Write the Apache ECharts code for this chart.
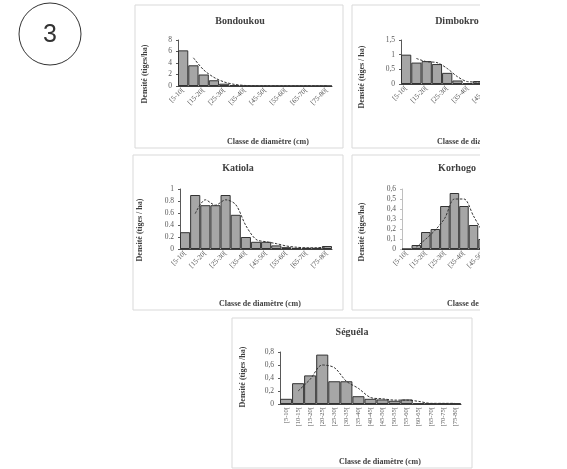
<!DOCTYPE html>
<html><head><meta charset="utf-8">
<script src="https://cdn.jsdelivr.net/npm/echarts@6.0.0/dist/echarts.min.js"></script>
<style>html,body{margin:0;padding:0;background:#fff}#c{width:567px;height:469px}</style>
</head><body><div id="c"></div>
<script>
const classes = ['[5-10[','[10-15[','[15-20[','[20-25[','[25-30[','[30-35[','[35-40[','[40-45[','[45-50[','[50-55[','[55-60[','[60-65[','[65-70[','[70-75[','[75-80['];

const bondoukouDensity = [6.2, 3.6, 2.0, 1.0, 0.4, 0.15, 0.05, 0.03, 0.03, 0.02, 0.02, 0.02, 0.02, 0.02, 0.02];
const bondoukouTrend   = [null, 4.9, 2.8, 1.5, 0.7, 0.28, 0.1, 0.04, 0.03, 0.03, 0.02, 0.02, 0.02, 0.02, 0.02];

const dimbokroDensity = [1.0, 0.73, 0.78, 0.68, 0.38, 0.12, 0.03, 0.1, 0.1, 0.05, 0.03, 0.02, 0.02, 0.01, 0.02];
const dimbokroTrend   = [null, 0.87, 0.76, 0.73, 0.53, 0.25, 0.08, 0.07, 0.1, 0.08, 0.04, 0.03, 0.02, 0.02, 0.02];

const katiolaDensity = [0.28, 0.9, 0.73, 0.73, 0.9, 0.57, 0.2, 0.12, 0.12, 0.06, 0.03, 0.02, 0.02, 0.02, 0.05];
const katiolaTrend   = [null, 0.59, 0.82, 0.73, 0.82, 0.74, 0.39, 0.16, 0.12, 0.09, 0.05, 0.03, 0.02, 0.02, 0.04];

const korhogoDensity = [0, 0.04, 0.17, 0.2, 0.43, 0.56, 0.43, 0.24, 0.1, 0.03, 0.04, 0.02, 0.01, 0.01, 0.01];
const korhogoTrend   = [null, 0.02, 0.1, 0.19, 0.31, 0.5, 0.5, 0.33, 0.17, 0.06, 0.03, 0.03, 0.02, 0.01, 0.01];

const seguelaDensity = [0.08, 0.32, 0.44, 0.76, 0.35, 0.35, 0.12, 0.08, 0.07, 0.05, 0.07, 0.01, 0.01, 0.01, 0.01];
const seguelaTrend   = [null, 0.2, 0.38, 0.6, 0.56, 0.35, 0.24, 0.1, 0.08, 0.06, 0.06, 0.04, 0.01, 0.01, 0.01];

const panelTitles = ['Bondoukou', 'Dimbokro', 'Katiola', 'Korhogo', 'Séguéla'];
const yNames = ['Densité (tiges/ha)', 'Densité (tiges / ha)', 'Densité (tiges / ha)', 'Densité (tiges/ha)', 'Densité (tiges /ha)'];
const xName = 'Classe de diamètre (cm)';

const SERIF = '"Liberation Serif", "DejaVu Serif", serif';
const TXT = '#404040';

const panels = [
  {bars: bondoukouDensity, trend: bondoukouTrend, max: 8, interval: 2, dec: '.',
   grid: {left: 178, top: 40, width: 154, height: 46}, box: [135, 5, 208, 143],
   title: [240, 21], yName: [145, 74], xName: [268, 142], rot: 45, lblInt: 1, yLine: '#595959'},
  {bars: dimbokroDensity, trend: dimbokroTrend, max: 1.5, interval: 0.5, dec: ',',
   grid: {left: 401, top: 40, width: 154, height: 44}, box: [352, 5, 208, 143],
   title: [457, 21], yName: [362, 77], xName: [478, 142], rot: 45, lblInt: 1, yLine: '#595959'},
  {bars: katiolaDensity, trend: katiolaTrend, max: 1, interval: 0.2, dec: '.',
   grid: {left: 180, top: 189, width: 152, height: 60}, box: [133, 155, 210, 155],
   title: [238, 168], yName: [140, 230], xName: [260, 304], rot: 45, lblInt: 1, yLine: '#595959'},
  {bars: korhogoDensity, trend: korhogoTrend, max: 0.6, interval: 0.1, dec: ',',
   grid: {left: 402, top: 189, width: 143, height: 60}, box: [352, 155, 210, 155],
   title: [457, 168], yName: [362, 232], xName: [488, 304], rot: 45, lblInt: 1, yLine: '#bfbfbf'},
  {bars: seguelaDensity, trend: seguelaTrend, max: 0.8, interval: 0.2, dec: ',',
   grid: {left: 280, top: 352, width: 181, height: 52}, box: [232, 318, 240, 150],
   title: [352, 332], yName: [243, 377], xName: [380, 462], rot: 90, lblInt: 0, yLine: '#595959'}
];

const grid = [], xAxis = [], yAxis = [], series = [], graphic = [];

panels.forEach((p, i) => {
  graphic.push({type: 'rect', shape: {x: p.box[0], y: p.box[1], width: p.box[2], height: p.box[3]},
    style: {fill: '#fff', stroke: '#d9d9d9', lineWidth: 1}, z: -10, silent: true});
  graphic.push({type: 'text', x: p.title[0], y: p.title[1], z: 5,
    style: {text: panelTitles[i], font: 'bold 10px ' + SERIF, fill: TXT, align: 'center', verticalAlign: 'middle'}});
  graphic.push({type: 'text', x: p.yName[0], y: p.yName[1], rotation: Math.PI / 2, z: 5,
    style: {text: yNames[i], font: 'bold 8px ' + SERIF, fill: TXT, align: 'center', verticalAlign: 'middle'}});
  graphic.push({type: 'text', x: p.xName[0], y: p.xName[1], z: 5,
    style: {text: xName, font: 'bold 8px ' + SERIF, fill: TXT, align: 'center', verticalAlign: 'middle'}});

  grid.push(Object.assign({containLabel: false}, p.grid));
  xAxis.push({
    type: 'category', gridIndex: i, data: classes, boundaryGap: true,
    axisLine: {show: true, lineStyle: {color: '#404040', width: 1}},
    axisTick: {show: false},
    axisLabel: {interval: p.lblInt, rotate: p.rot, fontFamily: SERIF, fontSize: p.rot === 90 ? 6.5 : 7, color: '#595959', margin: 3}
  });
  const dec = p.dec;
  yAxis.push({
    type: 'value', gridIndex: i, min: 0, max: p.max, interval: p.interval,
    axisLine: {show: true, lineStyle: {color: p.yLine, width: 1}},
    axisTick: {show: true, length: 2, lineStyle: {color: p.yLine}},
    splitLine: {show: false},
    axisLabel: {fontFamily: SERIF, fontSize: 7.5, color: '#595959', margin: 6,
      formatter: v => String(Math.round(v * 10) / 10).replace('.', dec)}
  });
  series.push({
    type: 'bar', xAxisIndex: i, yAxisIndex: i, data: p.bars, barCategoryGap: '0%',
    itemStyle: {color: '#a6a6a6', borderColor: '#333', borderWidth: 1}, silent: true
  });
  series.push({
    type: 'line', xAxisIndex: i, yAxisIndex: i, data: p.trend, showSymbol: false, smooth: 0.3,
    lineStyle: {color: '#333', width: 1, type: [2.5, 1.5]}, z: 5, silent: true
  });
});

// right-hand crop of the source figure
graphic.push({type: 'rect', shape: {x: 480, y: 0, width: 90, height: 316}, style: {fill: '#fff'}, z: 100, silent: true});
// circled figure number
graphic.push({type: 'circle', shape: {cx: 50, cy: 34, r: 31}, style: {fill: 'none', stroke: '#333', lineWidth: 1}, z: 5});
graphic.push({type: 'text', x: 50, y: 35, z: 5,
  style: {text: '3', font: '25px "Liberation Sans", Arial, sans-serif', fill: '#333', align: 'center', verticalAlign: 'middle'}});

const chart = echarts.init(document.getElementById('c'), null, {renderer: 'canvas'});
chart.setOption({animation: false, backgroundColor: '#fff', grid, xAxis, yAxis, series, graphic});
</script></body></html>
